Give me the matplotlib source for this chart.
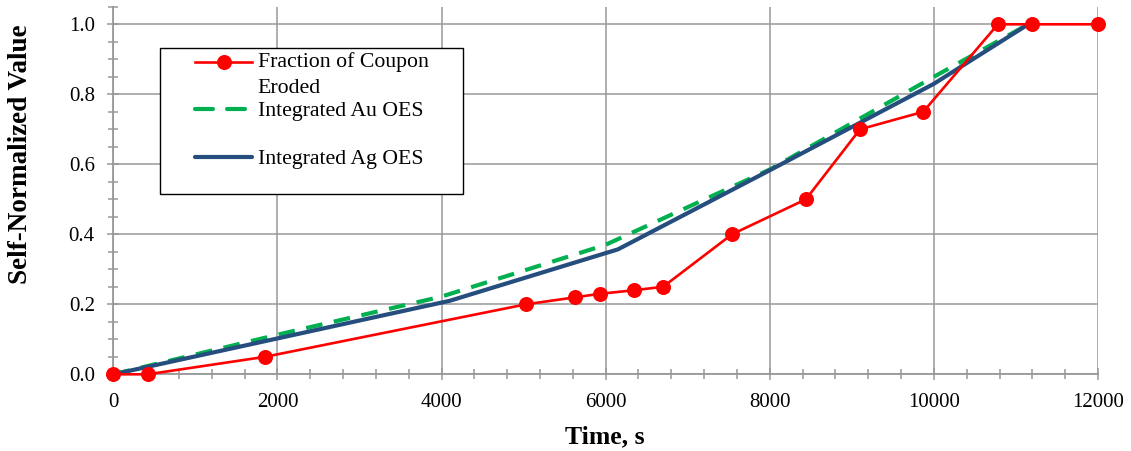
import matplotlib
matplotlib.use("Agg")
import matplotlib.pyplot as plt
from matplotlib.lines import Line2D
from matplotlib.patches import Rectangle
from matplotlib.ticker import MultipleLocator, FormatStrFormatter

# Eroded coupon fraction (sampled points)
erosion_time = [0, 420, 1850, 5030, 5630, 5930, 6340, 6700, 7540, 8440, 9100, 9870, 10780, 11190, 12000]
erosion_frac = [0.0, 0.0, 0.05, 0.20, 0.22, 0.23, 0.24, 0.25, 0.40, 0.50, 0.70, 0.75, 1.0, 1.0, 1.0]

# Integrated optical emission signals, self-normalized
au_time = [0, 2000, 4000, 6000, 8000, 10000, 11150]
au_value = [0.0, 0.113, 0.222, 0.370, 0.585, 0.850, 1.0]

ag_time = [0, 4100, 6150, 8000, 10000, 11150]
ag_value = [0.0, 0.210, 0.357, 0.583, 0.830, 1.0]

labels = ["Fraction of Coupon\nEroded", "Integrated Au OES", "Integrated Ag OES"]

RED = "#FF0000"
GREEN = "#00B050"
BLUE = "#254E7E"
GRAY = "#989898"

plt.rcParams["font.family"] = ["Liberation Serif", "DejaVu Serif"]

W, H, DPI = 1131, 451, 100
fig = plt.figure(figsize=(W / DPI, H / DPI), dpi=DPI)


def fx(px):
    return px / W


def fy(py):
    return (H - py) / H


left, right, top, bottom = 113.3, 1098.0, 6.8, 374.3
ax = fig.add_axes([fx(left), fy(bottom), fx(right) - fx(left), fy(top) - fy(bottom)])

ax.plot(au_time, au_value, color=GREEN, lw=3.0, linestyle=(0, (4.0, 2.8)),
        dash_capstyle="butt", solid_capstyle="butt", zorder=3)
ax.plot(ag_time, ag_value, color=BLUE, lw=3.0, solid_capstyle="round", zorder=4)
ax.plot(erosion_time, erosion_frac, color=RED, lw=1.9, marker="o", markersize=10.8,
        markeredgewidth=0, zorder=5, clip_on=False)

ax.set_xlim(0, 12000)
ax.set_ylim(0, 1.05)
ax.xaxis.set_major_locator(MultipleLocator(2000))
ax.xaxis.set_minor_locator(MultipleLocator(400))
ax.yaxis.set_major_locator(MultipleLocator(0.2))
ax.yaxis.set_minor_locator(MultipleLocator(0.05))
ax.yaxis.set_major_formatter(FormatStrFormatter("%.1f"))

ax.grid(True, which="major", color=GRAY, lw=1.1)
ax.set_axisbelow(True)
for side in ("top", "right"):
    ax.spines[side].set_visible(False)
for side in ("left", "bottom"):
    ax.spines[side].set_color(GRAY)
    ax.spines[side].set_linewidth(1.3)

ax.tick_params(which="major", direction="inout", length=8.6, width=1.1, color=GRAY,
               labelsize=15, pad=9.0, labelcolor="black")
ax.tick_params(which="minor", direction="inout", length=6.5, width=1.1, color=GRAY)

# Axis titles
fig.text(fx(21), fy(154), "Self-Normalized Value", rotation=90, ha="center", va="center",
         fontsize=19.5, fontweight="bold")
fig.text(fx(605), fy(443), "Time, s", ha="center", va="baseline",
         fontsize=18.5, fontweight="bold")

# Legend box
fig.add_artist(Rectangle((fx(160), fy(194)), fx(463) - fx(160), fy(48) - fy(194),
                         transform=fig.transFigure, facecolor="white", edgecolor="black",
                         lw=1.0, zorder=10))

hx0, hx1 = fx(195), fx(252)
fig.add_artist(Line2D([hx0, hx1], [fy(61.7)] * 2, color=RED, lw=1.9, zorder=11))
fig.add_artist(Line2D([fx(223.5)], [fy(61.7)], color=RED, marker="o", markersize=10.8,
                      markeredgewidth=0, lw=0, zorder=12))
fig.add_artist(Line2D([hx0, hx1], [fy(109.3)] * 2, color=GREEN, lw=3.0,
                      linestyle=(0, (4.3, 3.4)), dash_capstyle="round", zorder=11))
fig.add_artist(Line2D([hx0, hx1], [fy(157.3)] * 2, color=BLUE, lw=3.0,
                      solid_capstyle="round", zorder=11))

tx = fx(257.5)
fs_leg = 15.7
fig.text(tx, fy(67.3), "Fraction of Coupon", fontsize=fs_leg, va="baseline", zorder=12)
fig.text(tx, fy(92.7), "Eroded", fontsize=fs_leg, va="baseline", zorder=12)
fig.text(tx, fy(116.0), labels[1], fontsize=fs_leg, va="baseline", zorder=12)
fig.text(tx, fy(164.3), labels[2], fontsize=fs_leg, va="baseline", zorder=12)

fig.savefig("out.png", dpi=DPI)
